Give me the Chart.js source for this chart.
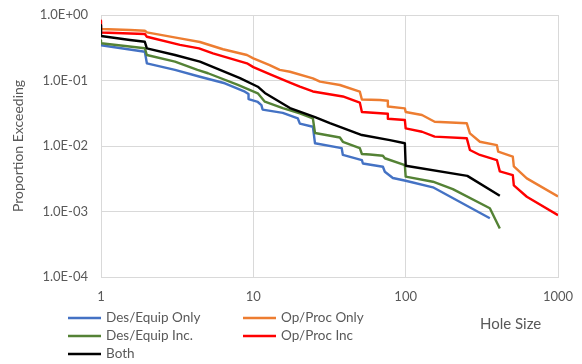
<!DOCTYPE html>
<html>
<head>
<meta charset="utf-8">
<script src="https://cdn.jsdelivr.net/npm/chart.js@4/dist/chart.umd.min.js"></script>
<style>
  html, body { margin: 0; padding: 0; background: #ffffff; }
  #wrap { position: relative; width: 582px; height: 364px; }
</style>
</head>
<body>
<div id="wrap"><canvas id="c" width="582" height="364"></canvas></div>
<script>
// Exceedance curves: proportion of releases with hole size above a given value.
const seriesNames = ['Des/Equip Only', 'Op/Proc Only', 'Des/Equip Inc.', 'Op/Proc Inc', 'Both'];

const desEquipOnlyX = [1, 1, 1.94, 2.0, 3.06, 4.46, 6.5, 8.8, 9.3, 9.3, 10.7, 11.3, 11.5, 15.6, 19.6, 20.2, 24.6, 25.4, 38, 38.7, 51.6, 52.4, 70.9, 73, 82.4, 100, 151, 357];
const desEquipOnlyY = [0.37, 0.345, 0.275, 0.183, 0.145, 0.114, 0.0907, 0.0675, 0.062, 0.052, 0.047, 0.042, 0.036, 0.032, 0.0263, 0.022, 0.0197, 0.011, 0.0093, 0.0073, 0.0061, 0.0054, 0.00483, 0.00405, 0.00325, 0.00295, 0.00234, 0.00079];

const opProcOnlyX = [1, 1, 1.55, 1.94, 2.0, 3.3, 4.46, 6.32, 9.08, 10, 12.8, 14.9, 17.4, 24.6, 27.4, 37, 50, 51.6, 67.7, 76.4, 76.4, 98.8, 100, 128, 155, 252, 264, 307, 397, 405, 505, 513, 624, 1000];
const opProcOnlyY = [0.66, 0.611, 0.59, 0.575, 0.544, 0.44, 0.387, 0.30, 0.245, 0.218, 0.172, 0.145, 0.136, 0.108, 0.096, 0.0854, 0.0675, 0.0513, 0.0504, 0.049, 0.040, 0.0376, 0.033, 0.0297, 0.0235, 0.0222, 0.0156, 0.0116, 0.0103, 0.0082, 0.0069, 0.0049, 0.0032, 0.0017];

const desEquipIncX = [1, 1, 1.94, 2.0, 3.06, 4.3, 5.04, 7.92, 10.7, 11.9, 15.6, 20.2, 24.6, 25.4, 37, 38.7, 50, 51.6, 58.2, 70.9, 73, 98.8, 100, 151, 204, 357, 415];
const desEquipIncY = [0.41, 0.37, 0.31, 0.245, 0.194, 0.145, 0.129, 0.0854, 0.0638, 0.0475, 0.038, 0.0316, 0.0263, 0.0158, 0.0135, 0.0116, 0.0093, 0.00755, 0.0074, 0.0071, 0.0065, 0.0051, 0.0034, 0.00285, 0.0022, 0.00112, 0.00055];

const opProcIncX = [1, 1, 1.94, 2.0, 3.3, 4.4, 5.43, 9.08, 10, 12.8, 17.4, 20.2, 24.6, 38.7, 50, 51.6, 76.4, 76.4, 98.8, 100, 128, 155, 252, 264, 307, 397, 415, 505, 513, 624, 1000];
const opProcIncY = [0.82, 0.54, 0.513, 0.466, 0.35, 0.31, 0.26, 0.183, 0.16, 0.125, 0.093, 0.0804, 0.068, 0.057, 0.046, 0.033, 0.031, 0.026, 0.0249, 0.0186, 0.0165, 0.0139, 0.0131, 0.0087, 0.0073, 0.0061, 0.0041, 0.0036, 0.0025, 0.00168, 0.00088];

const bothX = [1, 1, 1.55, 1.94, 2.0, 3.06, 4.46, 6.04, 8.17, 10.7, 11.9, 17.4, 25.4, 31.8, 51.6, 78.8, 98.8, 100, 254, 415];
const bothY = [0.70, 0.478, 0.415, 0.39, 0.31, 0.245, 0.194, 0.145, 0.109, 0.0804, 0.0645, 0.038, 0.0277, 0.0224, 0.0147, 0.0123, 0.011, 0.005, 0.0035, 0.00174];

const xTickValues = [1, 10, 100, 1000];
const xTickLabels = ['1', '10', '100', '1000'];
const yTickValues = [1e-4, 1e-3, 1e-2, 1e-1, 1];
const yTickLabels = ['1.0E-04', '1.0E-03', '1.0E-02', '1.0E-01', '1.0E+00'];

const seriesColors = ['#4472C4', '#ED7D31', '#548235', '#FF0000', '#000000'];
const seriesX = [desEquipOnlyX, opProcOnlyX, desEquipIncX, opProcIncX, bothX];
const seriesY = [desEquipOnlyY, opProcOnlyY, desEquipIncY, opProcIncY, bothY];

const FONT = 'Lato, "Open Sans", sans-serif';
const TEXT = '#595959';
const GRID = '#d9d9d9';

const datasets = seriesNames.map((name, i) => ({
  label: name,
  data: seriesX[i].map((x, k) => ({ x: x, y: seriesY[i][k] })),
  borderColor: seriesColors[i],
  backgroundColor: seriesColors[i],
  borderWidth: 2.4,
  borderJoinStyle: 'round',
  showLine: true,
  pointRadius: 0,
  tension: 0,
  order: seriesNames.length - i
}));

// Two-column legend under the plot, plus the horizontal axis title at the right.
const bottomLegend = {
  id: 'bottomLegend',
  afterDraw(chart) {
    const ctx = chart.ctx;
    ctx.save();
    ctx.font = '13.5px ' + FONT;
    ctx.textBaseline = 'middle';
    ctx.textAlign = 'left';
    chart.data.datasets.forEach((ds, i) => {
      const col = i % 2;
      const row = Math.floor(i / 2);
      const x0 = col ? 243 : 68;
      const y = 318 + row * 18;
      ctx.strokeStyle = ds.borderColor;
      ctx.lineWidth = 2.5;
      ctx.beginPath();
      ctx.moveTo(x0, y);
      ctx.lineTo(x0 + 33, y);
      ctx.stroke();
      ctx.fillStyle = TEXT;
      ctx.fillText(ds.label, x0 + 38, y);
    });
    ctx.font = '15px ' + FONT;
    ctx.fillStyle = TEXT;
    ctx.fillText('Hole Size', 480, 324);
    ctx.restore();
  }
};

new Chart(document.getElementById('c'), {
  type: 'scatter',
  data: { datasets: datasets },
  plugins: [bottomLegend],
  options: {
    responsive: false,
    devicePixelRatio: 1,
    animation: false,
    layout: { padding: { top: 15, right: 24, bottom: 0, left: 0 } },
    plugins: { legend: { display: false }, tooltip: { enabled: false } },
    scales: {
      x: {
        type: 'logarithmic',
        min: 1,
        max: 1000,
        afterFit(scale) {
          scale.height = 87;
          scale.paddingLeft = 0;
          scale.paddingRight = 0;
        },
        afterBuildTicks(scale) { scale.ticks = xTickValues.map(v => ({ value: v })); },
        grid: { color: GRID, lineWidth: 1, drawTicks: false },
        border: { color: GRID, width: 1 },
        ticks: {
          padding: 12,
          maxRotation: 0,
          autoSkip: false,
          color: TEXT,
          font: { family: FONT, size: 13 },
          callback: (v) => xTickLabels[xTickValues.indexOf(v)]
        }
      },
      y: {
        type: 'logarithmic',
        min: 1e-4,
        max: 1,
        afterFit(scale) {
          scale.width = 101;
          scale.paddingTop = 0;
          scale.paddingBottom = 0;
        },
        afterBuildTicks(scale) { scale.ticks = yTickValues.map(v => ({ value: v })); },
        grid: { color: GRID, lineWidth: 1, drawTicks: false },
        border: { color: GRID, width: 1 },
        title: {
          display: true,
          text: 'Proportion Exceeding',
          color: TEXT,
          font: { family: FONT, size: 14 },
          padding: { top: 10, bottom: 0 }
        },
        ticks: {
          padding: 13,
          autoSkip: false,
          color: TEXT,
          font: { family: FONT, size: 13 },
          callback: (v) => yTickLabels[yTickValues.indexOf(v)]
        }
      }
    }
  }
});
</script>
</body>
</html>
